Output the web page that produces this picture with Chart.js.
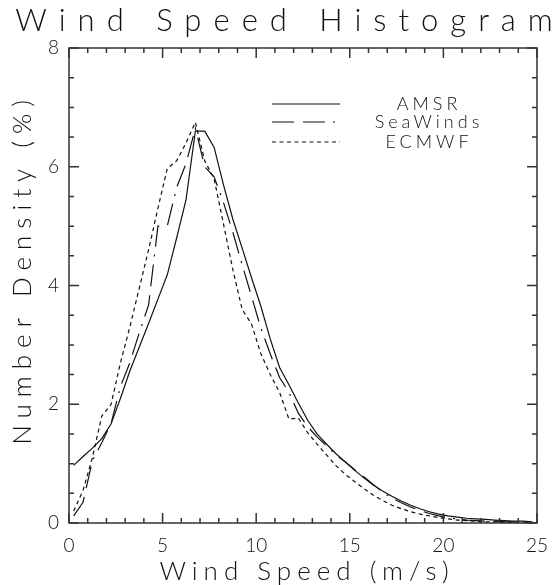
<!DOCTYPE html>
<html>
<head>
<meta charset="utf-8">
<script src="https://cdn.jsdelivr.net/npm/chart.js@4.4.0/dist/chart.umd.min.js"></script>
<style>
  html, body { margin: 0; padding: 0; background: #fff; }
  #wrap { width: 559px; height: 585px; }
</style>
</head>
<body>
<div id="wrap"><canvas id="histChart" width="559" height="585"></canvas></div>
<script>
// bin centres (m/s)
var speeds = [0.25, 0.75, 1.25, 1.75, 2.25, 2.75, 3.25, 3.75, 4.25, 4.75,
              5.25, 5.75, 6.25, 6.75, 7.25, 7.75, 8.25, 8.75, 9.25, 9.75,
              10.25, 10.75, 11.25, 11.75, 12.25, 12.75, 13.25, 13.75, 14.25, 14.75,
              15.25, 15.75, 16.25, 16.75, 17.25, 17.75, 18.25, 18.75, 19.25, 19.75,
              20.25, 20.75, 21.25, 21.75, 22.25, 22.75, 23.25, 23.75, 24.25, 24.75];

// number density (%)
var amsr = [0.97, 1.12, 1.26, 1.42, 1.67, 2.1, 2.56, 2.96, 3.36, 3.77,
            4.18, 4.8, 5.44, 6.6, 6.6, 6.33, 5.7, 5.12, 4.63, 4.13,
            3.65, 3.1, 2.62, 2.33, 2.02, 1.73, 1.5, 1.33, 1.17, 1.03,
            0.89, 0.76, 0.64, 0.54, 0.45, 0.37, 0.3, 0.24, 0.19, 0.15,
            0.12, 0.1, 0.08, 0.07, 0.06, 0.05, 0.04, 0.03, 0.03, 0.02];

var seawinds = [0.12, 0.35, 1.05, 1.35, 1.68, 2.3, 2.7, 3.2, 3.67, 5.0,
                5.0, 5.65, 6.05, 6.65, 6.0, 5.83, 5.4, 4.9, 4.35, 3.82,
                3.28, 2.85, 2.45, 2.2, 1.85, 1.62, 1.45, 1.3, 1.15, 1.03,
                0.9, 0.78, 0.65, 0.52, 0.42, 0.34, 0.27, 0.21, 0.16, 0.12,
                0.09, 0.07, 0.05, 0.04, 0.03, 0.03, 0.02, 0.02, 0.01, 0.01];

var ecmwf = [0.2, 0.55, 1.1, 1.8, 2.0, 2.7, 3.3, 3.95, 4.6, 5.3,
             5.97, 6.1, 6.4, 6.75, 6.1, 5.8, 5.04, 4.27, 3.6, 3.35,
             2.85, 2.5, 2.2, 1.75, 1.77, 1.52, 1.33, 1.15, 0.97, 0.82,
             0.7, 0.58, 0.47, 0.38, 0.3, 0.24, 0.19, 0.15, 0.12, 0.09,
             0.07, 0.05, 0.04, 0.03, 0.02, 0.02, 0.01, 0.01, 0.01, 0.01];

var seriesNames = ['AMSR', 'SeaWinds', 'ECMWF'];
var xTicks = [0, 5, 10, 15, 20, 25];
var yTicks = [0, 2, 4, 6, 8];

var FONT = "'Lato', 'DejaVu Sans', sans-serif";
var INK = '#111';

function pts(vals) {
    return speeds.map(function (s, i) { return { x: s, y: vals[i] }; });
}

// titles, frame, inward ticks and legend
var decor = {
    id: 'decor',
    afterDatasetsDraw: function (chart) {
        var ctx = chart.ctx;
        var a = chart.chartArea;
        var xs = chart.scales.x, ys = chart.scales.y;
        ctx.save();
        ctx.strokeStyle = '#333';
        ctx.lineWidth = 1.5;
        ctx.strokeRect(a.left, a.top, a.right - a.left, a.bottom - a.top);

        ctx.beginPath();
        for (var v = 0; v <= 25; v++) {
            var px = xs.getPixelForValue(v);
            var len = v % 5 === 0 ? 10 : 5;
            ctx.moveTo(px, a.bottom); ctx.lineTo(px, a.bottom - len);
            ctx.moveTo(px, a.top); ctx.lineTo(px, a.top + len);
        }
        for (var w = 0; w <= 8; w += 0.5) {
            var py = ys.getPixelForValue(w);
            var l2 = w % 2 === 0 ? 10 : 5;
            ctx.moveTo(a.left, py); ctx.lineTo(a.left + l2, py);
            ctx.moveTo(a.right, py); ctx.lineTo(a.right - l2, py);
        }
        ctx.stroke();

        // legend
        var rows = [104, 122, 142];
        chart.data.datasets.forEach(function (ds, i) {
            ctx.beginPath();
            ctx.strokeStyle = INK;
            ctx.lineWidth = 1.2;
            ctx.setLineDash(ds.borderDash || []);
            ctx.moveTo(272, rows[i]); ctx.lineTo(340, rows[i]);
            ctx.stroke();
            ctx.setLineDash([]);
            ctx.fillStyle = INK;
            ctx.font = '300 18px ' + FONT;
            ctx.letterSpacing = '4px';
            ctx.textAlign = 'center';
            ctx.textBaseline = 'middle';
            ctx.fillText(ds.label, 429, rows[i]);
        });

        // chart title
        ctx.font = '300 31px ' + FONT;
        ctx.letterSpacing = '12px';
        ctx.textAlign = 'center';
        ctx.textBaseline = 'alphabetic';
        ctx.fillText('Wind Speed Histogram', 290, 31);

        // x title
        ctx.font = '300 26px ' + FONT;
        ctx.letterSpacing = '6px';
        ctx.fillText('Wind Speed (m/s)', 307, 580);

        // y title
        ctx.translate(31, 272);
        ctx.rotate(-Math.PI / 2);
        ctx.font = '300 26px ' + FONT;
        ctx.letterSpacing = '7px';
        ctx.fillText('Number Density (%)', 3, 0);
        ctx.restore();
    }
};

var ctx = document.getElementById('histChart').getContext('2d');
var histChart = new Chart(ctx, {
    type: 'line',
    data: {
        datasets: [{
            label: seriesNames[0],
            data: pts(amsr),
            borderColor: INK,
            borderWidth: 1.2,
            borderDash: []
        }, {
            label: seriesNames[1],
            data: pts(seawinds),
            borderColor: INK,
            borderWidth: 1.2,
            borderDash: [22, 9, 22, 8, 2, 8]
        }, {
            label: seriesNames[2],
            data: pts(ecmwf),
            borderColor: INK,
            borderWidth: 1.2,
            borderDash: [4, 3.5]
        }]
    },
    options: {
        responsive: false,
        animation: false,
        elements: { point: { radius: 0 }, line: { tension: 0 } },
        layout: { padding: { left: 0, top: 48, right: 15, bottom: 0 } },
        plugins: { legend: { display: false }, tooltip: { enabled: false } },
        scales: {
            x: {
                type: 'linear',
                min: 0, max: 25,
                afterBuildTicks: function (s) { s.ticks = xTicks.map(function (v) { return { value: v }; }); },
                afterFit: function (s) { s.height = 62; },
                grid: { display: false, drawTicks: false },
                border: { display: false },
                ticks: { padding: 11, color: INK, font: { family: FONT, size: 19, weight: 300 }, maxRotation: 0 }
            },
            y: {
                type: 'linear',
                min: 0, max: 8,
                afterBuildTicks: function (s) { s.ticks = yTicks.map(function (v) { return { value: v }; }); },
                afterFit: function (s) { s.width = 69; },
                grid: { display: false, drawTicks: false },
                border: { display: false },
                ticks: { padding: 10, color: INK, font: { family: FONT, size: 19, weight: 300 } }
            }
        }
    },
    plugins: [decor]
});
</script>
</body>
</html>
